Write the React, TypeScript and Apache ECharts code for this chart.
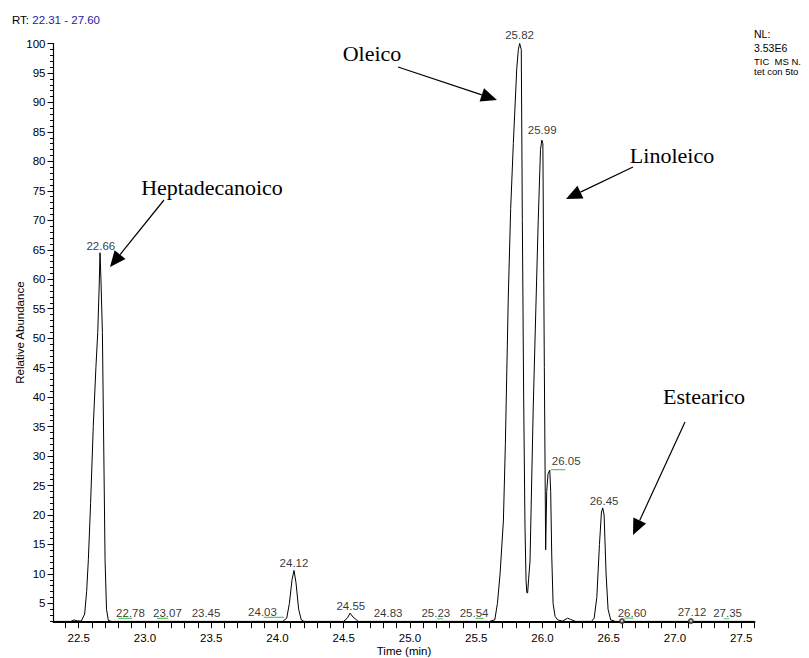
import React, { useEffect, useRef } from "react";
import * as echarts from "echarts";

// ---- data ----
const xMin = 22.31;
const xMax = 27.6;
const yMin = 1.9;
const yMax = 100;

const traceTime = [
  22.31, 22.44, 22.465, 22.49, 22.52, 22.545, 22.56, 22.573, 22.59, 22.61, 22.63, 22.644, 22.655, 22.661,
  22.668, 22.679, 22.69, 22.699, 22.71, 22.724, 22.75,
  24.04, 24.07, 24.09, 24.11, 24.125, 24.14, 24.16, 24.18, 24.2,
  24.5, 24.53, 24.548, 24.57, 24.61,
  25.6, 25.64, 25.66, 25.68, 25.705, 25.72, 25.742, 25.76, 25.78, 25.806, 25.818, 25.828, 25.84, 25.848, 25.858,
  25.868, 25.876, 25.882, 25.888, 25.895, 25.906, 25.93, 25.95, 25.968, 25.985, 25.995, 26.003, 26.014, 26.024,
  26.032, 26.042, 26.055, 26.062, 26.07, 26.08, 26.095, 26.115, 26.15, 26.19, 26.21, 26.25,
  26.37, 26.39, 26.41, 26.43, 26.445, 26.455, 26.465, 26.48, 26.495, 26.515, 26.55, 27.6,
];
const traceAbund = [
  1.95, 1.95, 2.2, 2.05, 2.0, 3.2, 7, 12.4, 22, 35, 45, 51, 59, 64.5,
  60, 51, 30, 12.4, 4, 2.1, 1.95,
  1.95, 2.5, 5, 9, 10.6, 8.5, 4, 2.2, 1.95,
  1.95, 2.6, 3.35, 2.7, 1.95,
  1.95, 2.2, 5, 10, 19, 32, 57, 72, 83, 95.8, 99, 100, 99, 70, 40,
  18, 9, 6.8, 6.8, 9, 12.2, 38, 55, 70, 82, 83.6, 83, 45, 14.1,
  24, 27, 27.6, 24, 13, 5, 2.8, 2.2, 2.0, 2.5, 2.3, 1.95,
  1.95, 2.5, 6, 15, 20.5, 21.2, 20, 10, 4, 2.2, 1.95, 1.95,
];

const peakLabels = ["22.66", "22.78", "23.07", "23.45", "24.03", "24.12", "24.55", "24.83", "25.23", "25.54", "25.82", "25.99", "26.05", "26.45", "26.60", "27.12", "27.35"];
const peakLabelTime = [22.667, 22.891, 23.17, 23.461, 23.887, 24.125, 24.554, 24.835, 25.195, 25.484, 25.827, 25.998, 26.179, 26.465, 26.676, 27.129, 27.397];
const peakLabelAbund = [65.7, 3.35, 3.4, 3.4, 3.6, 11.9, 4.63, 3.4, 3.4, 3.4, 101.4, 85.4, 29.2, 22.3, 3.4, 3.6, 3.4];

const markStart = [22.8, 23.09, 23.896, 25.206, 25.495, 26.063, 26.618, 27.368];
const markEnd = [22.904, 23.175, 24.05, 25.249, 25.555, 26.171, 26.686, 27.41];
const markLevel = [2.45, 2.45, 2.65, 2.4, 2.45, 27.7, 2.5, 2.4];

const circleTime = [26.6, 27.12];
const circleAbund = [2.0, 2.0];

const xLabelValues = [22.5, 23.0, 23.5, 24.0, 24.5, 25.0, 25.5, 26.0, 26.5, 27.0, 27.5];
const yLabelValues = [5, 10, 15, 20, 25, 30, 35, 40, 45, 50, 55, 60, 65, 70, 75, 80, 85, 90, 95, 100];

const headerLines = ["NL:", "3.53E6", "TIC  MS N.", "tet con 5to"];

const SANS = "'Liberation Sans', Arial, Helvetica, sans-serif";
const SERIF = "'Liberation Serif', 'Times New Roman', serif";

function arrow(x1: number, y1: number, x2: number, y2: number) {
  const dx = x2 - x1;
  const dy = y2 - y1;
  const len = Math.sqrt(dx * dx + dy * dy);
  const ux = dx / len;
  const uy = dy / len;
  const hl = 16;
  const hw = 7;
  const bx = x2 - ux * hl;
  const by = y2 - uy * hl;
  return [
    {
      type: "line",
      shape: { x1, y1, x2: bx, y2: by },
      style: { stroke: "#000", lineWidth: 1.2 },
      silent: true,
    },
    {
      type: "polygon",
      shape: {
        points: [
          [x2, y2],
          [bx - uy * hw, by + ux * hw],
          [bx + uy * hw, by - ux * hw],
        ],
      },
      style: { fill: "#000" },
      silent: true,
    },
  ];
}

export default function App() {
  const ref = useRef<HTMLDivElement>(null);

  useEffect(() => {
    document.body.style.margin = "0";
    if (!ref.current) return;
    const chart = echarts.init(ref.current, null, { renderer: "svg" });

    const xMinorTicks: number[] = [];
    for (let i = 224; i <= 276; i++) xMinorTicks.push(i / 10);
    const yMinorTicks: number[] = [];
    for (let i = 2; i <= 100; i++) yMinorTicks.push(i);

    const annotations = [
      { text: "Oleico", x: 372, y: 53 },
      { text: "Heptadecanoico", x: 212, y: 187 },
      { text: "Linoleico", x: 672, y: 155 },
      { text: "Estearico", x: 704, y: 396 },
    ];

    const graphics: any[] = [];
    annotations.forEach((a) =>
      graphics.push({
        type: "text",
        x: a.x,
        y: a.y,
        style: {
          text: a.text,
          font: `22px ${SERIF}`,
          fill: "#000",
          textAlign: "center",
          textVerticalAlign: "middle",
        },
        silent: true,
      })
    );
    graphics.push(...arrow(398, 67, 497, 100));
    graphics.push(...arrow(164, 200, 110, 267));
    graphics.push(...arrow(633, 167, 566, 199));
    graphics.push(...arrow(685, 422, 633, 535));

    const headerY = [34, 48, 61, 71];
    headerLines.forEach((t, i) =>
      graphics.push({
        type: "text",
        x: 754,
        y: headerY[i],
        style: {
          text: t,
          font: `${i < 2 ? 10.5 : 9.5}px ${SANS}`,
          fill: "#000",
          textAlign: "left",
          textVerticalAlign: "middle",
        },
        silent: true,
      })
    );

    const markSeries = markStart.map((s, i) => ({
      type: "line",
      data: [
        [s, markLevel[i]],
        [markEnd[i], markLevel[i]],
      ],
      showSymbol: false,
      lineStyle: { color: "#5ccc5c", width: 1.2 },
      silent: true,
      z: 4,
    }));

    chart.setOption({
      animation: false,
      title: {
        text: `{a|RT: }{b|${xMin.toFixed(2)} - ${xMax.toFixed(2)}}`,
        left: 12,
        top: 14,
        padding: 0,
        textStyle: {
          fontWeight: "normal",
          rich: {
            a: { fontFamily: SANS, fontSize: 11.5, fontWeight: "normal", color: "#000" },
            b: { fontFamily: SANS, fontSize: 11.5, fontWeight: "normal", color: "#2323a6" },
          },
        },
      },
      grid: { left: 53.5, right: 54.5, top: 43.5, bottom: 36.3, outerBoundsMode: "none" },
      xAxis: {
        type: "value",
        min: xMin,
        max: xMax,
        name: "Time (min)",
        nameLocation: "middle",
        nameGap: 23,
        nameMoveOverlap: false,
        nameTextStyle: { fontFamily: SANS, fontSize: 11.5, color: "#000" },
        axisLine: { show: true, lineStyle: { color: "#000", width: 2 } },
        axisTick: { show: true, customValues: xMinorTicks, length: 6.5, lineStyle: { color: "#000", width: 1 } },
        axisLabel: {
          customValues: xLabelValues,
          formatter: (v: number) => v.toFixed(1),
          fontFamily: SANS,
          fontSize: 11.5,
          color: "#000",
          margin: 10,
        },
        splitLine: { show: false },
      },
      yAxis: [
        {
          type: "value",
          min: yMin,
          max: yMax,
          position: "left",
          name: "Relative Abundance",
          nameLocation: "middle",
          nameGap: 28,
          nameMoveOverlap: false,
          nameRotate: 90,
          nameTextStyle: { fontFamily: SANS, fontSize: 11.5, color: "#000" },
          axisLine: { show: true, lineStyle: { color: "#000", width: 1.2 } },
          axisTick: { show: true, customValues: yLabelValues, length: 6, lineStyle: { color: "#000", width: 1 } },
          axisLabel: {
            customValues: yLabelValues,
            fontFamily: SANS,
            fontSize: 11.5,
            color: "#000",
            margin: 8,
          },
          splitLine: { show: false },
        },
        {
          type: "value",
          min: yMin,
          max: yMax,
          position: "left",
          axisLine: { show: false },
          axisTick: { show: true, customValues: yMinorTicks, length: 3.5, lineStyle: { color: "#000", width: 1 } },
          axisLabel: { show: false },
          splitLine: { show: false },
        },
      ],
      series: [
        {
          type: "line",
          data: traceTime.map((t, i) => [t, traceAbund[i]]),
          showSymbol: false,
          lineStyle: { color: "#000", width: 1 },
          silent: true,
          z: 3,
        },
        ...markSeries,
        {
          type: "scatter",
          data: circleTime.map((t, i) => [t, circleAbund[i]]),
          symbol: "emptyCircle",
          symbolSize: 4,
          itemStyle: { color: "#333", borderColor: "#333", borderWidth: 0.8 },
          silent: true,
          z: 5,
        },
        {
          type: "scatter",
          data: peakLabels.map((l, i) => ({ name: l, value: [peakLabelTime[i], peakLabelAbund[i]] })),
          symbolSize: 0,
          itemStyle: { color: "#000" },
          clip: false,
          silent: true,
          label: {
            show: true,
            position: [0, 0],
            align: "center",
            verticalAlign: "middle",
            formatter: (p: any) => p.name,
            fontFamily: SANS,
            fontSize: 11.5,
            color: "#000",
          },
          z: 6,
        },
      ],
      graphic: graphics,
    });

    return () => chart.dispose();
  }, []);

  return <div ref={ref} style={{ width: 809, height: 658 }} />;
}
